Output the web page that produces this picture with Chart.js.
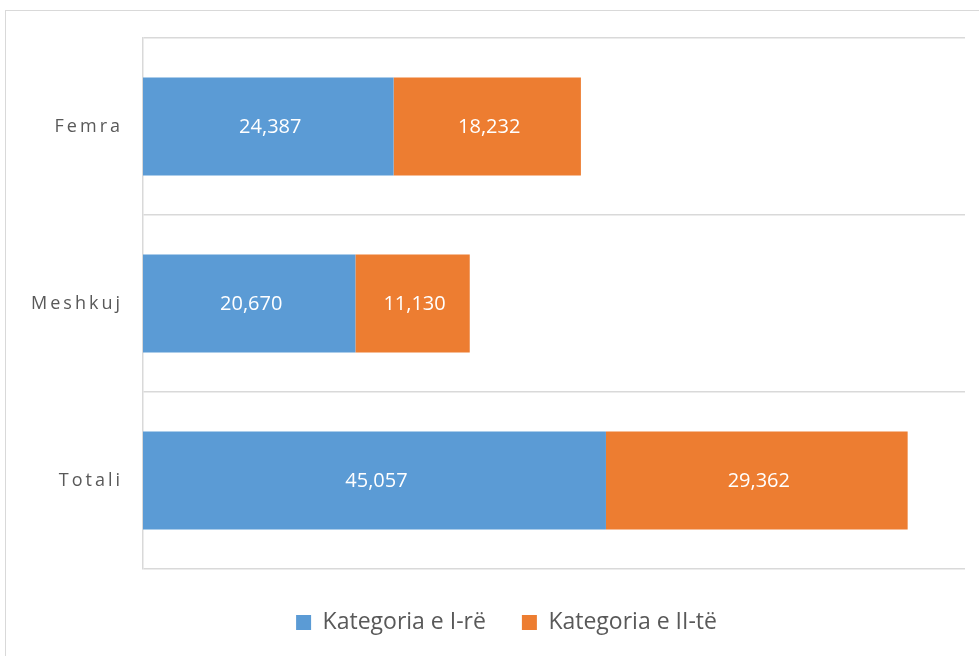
<!DOCTYPE html>
<html>
<head>
<meta charset="utf-8">
<script src="https://cdn.jsdelivr.net/npm/chart.js@4"></script>
<style>
  html, body { margin: 0; padding: 0; background: #fff; }
  #wrap { position: relative; width: 979px; height: 656px; overflow: hidden; }
  #frame {
    position: absolute; left: 5px; top: 10px; width: 1000px; height: 700px;
    border-left: 1.5px solid #d9d9d9; border-top: 1.5px solid #d9d9d9;
  }
  #chart { position: absolute; left: 0; top: 0; }
</style>
</head>
<body>
<div id="wrap">
  <div id="frame"></div>
  <canvas id="chart" width="979" height="656"></canvas>
</div>
<script>
// Kategoritë dhe vlerat
const categories = ['Femra', 'Meshkuj', 'Totali'];
const seriesNames = ['Kategoria e I-rë', 'Kategoria e II-të'];
const kategoriaI = [24387, 20670, 45057];
const kategoriaII = [18232, 11130, 29362];
const seriesColors = ['#5B9BD5', '#ED7D31'];

const FONT = "'Open Sans', 'Liberation Sans', sans-serif";

// Etiketat e vlerave në mes të çdo segmenti
const valueLabels = {
  id: 'valueLabels',
  afterDatasetsDraw(chart) {
    const ctx = chart.ctx;
    ctx.save();
    ctx.font = '20px ' + FONT;
    ctx.fillStyle = '#ffffff';
    ctx.textAlign = 'center';
    ctx.textBaseline = 'middle';
    chart.data.datasets.forEach((ds, i) => {
      chart.getDatasetMeta(i).data.forEach((bar, j) => {
        const p = bar.getProps(['x', 'base', 'y'], true);
        ctx.fillText(ds.data[j].toLocaleString('en-US'), (p.x + p.base) / 2 + 2, p.y + 1);
      });
    });
    ctx.restore();
  }
};

// Hapësirë mes shkronjave për emrat e kategorive
const spacedTicks = {
  id: 'spacedTicks',
  beforeDraw(chart) {
    const scale = chart.scales.y;
    if (scale._spaced) return;
    const orig = scale.drawLabels;
    scale.drawLabels = function (area) {
      this.ctx.save();
      this.ctx.letterSpacing = '3px';
      orig.call(this, area);
      this.ctx.restore();
    };
    scale._spaced = true;
  }
};

// Legjenda pak më djathtas, në mes të kornizës
const legendShift = {
  id: 'legendShift',
  afterLayout(chart) {
    chart.legend.left += 24;
    chart.legend.right += 24;
  }
};

new Chart(document.getElementById('chart'), {
  type: 'bar',
  data: {
    labels: categories,
    datasets: [
      { label: seriesNames[0], data: kategoriaI, backgroundColor: seriesColors[0],
        categoryPercentage: 1, barPercentage: 0.553 },
      { label: seriesNames[1], data: kategoriaII, backgroundColor: seriesColors[1],
        categoryPercentage: 1, barPercentage: 0.553 }
    ]
  },
  options: {
    indexAxis: 'y',
    responsive: false,
    animation: false,
    layout: { padding: { top: 38, right: 14, bottom: 12, left: 0 } },
    scales: {
      x: {
        stacked: true, min: 0, max: 80000,
        afterFit(scale) { scale.height = 6; },
        grid: { display: false },
        border: { display: false },
        ticks: { display: false }
      },
      y: {
        stacked: true,
        afterFit(scale) { scale.width = 143; },
        grid: { color: '#d9d9d9', lineWidth: 1.5, drawTicks: false },
        border: { display: true, color: '#d9d9d9', width: 1.5 },
        ticks: { color: '#595959', font: { family: FONT, size: 18 }, padding: 20 }
      }
    },
    plugins: {
      tooltip: { enabled: false },
      legend: {
        position: 'bottom',
        labels: {
          color: '#595959',
          font: { family: FONT, size: 23 },
          boxWidth: 15, boxHeight: 15,
          padding: 36
        }
      }
    }
  },
  plugins: [valueLabels, spacedTicks, legendShift]
});
</script>
</body>
</html>
